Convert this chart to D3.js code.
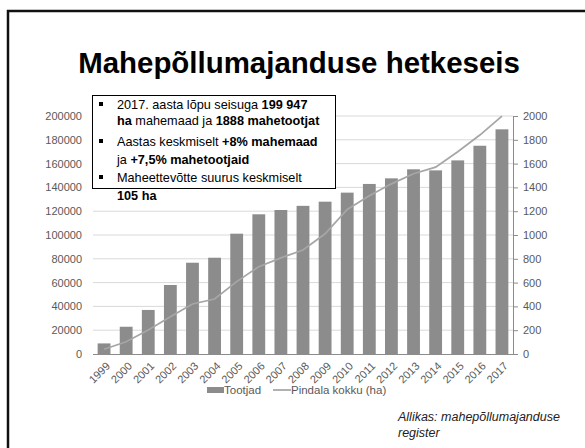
<!DOCTYPE html>
<html>
<head>
<meta charset="utf-8">
<script src="https://cdn.jsdelivr.net/npm/d3@7"></script>
<style>
  body { margin: 0; background: #fff; }
  svg { display: block; font-family: "Liberation Sans", Arial, sans-serif; }
</style>
</head>
<body>
<svg id="chart" width="585" height="448"></svg>
<script>
const years = ["1999","2000","2001","2002","2003","2004","2005","2006","2007","2008",
  "2009","2010","2011","2012","2013","2014","2015","2016","2017"]
const tootjad = [89, 229, 370, 580, 767, 809, 1011, 1174, 1210, 1245,
  1280, 1356, 1429, 1476, 1552, 1543, 1627, 1750, 1888]
const pindala = [4000, 10300, 20200, 31300, 42000, 46200, 60800, 73400, 80800, 87400,
  101000, 121500, 133000, 143000, 151500, 157000, 170000, 184000, 199947]
const leftTicks = [0, 20000, 40000, 60000, 80000, 100000, 120000, 140000, 160000, 180000, 200000]
const rightTicks = [0, 200, 400, 600, 800, 1000, 1200, 1400, 1600, 1800, 2000]
const bullets = [
  [[["2017. aasta lõpu seisuga ", false], ["199 947", true]],
   [["ha", true], [" mahemaad ja ", false], ["1888 mahetootjat", true]]],
  [[["Aastas keskmiselt ", false], ["+8% mahemaad", true]],
   [["ja ", false], ["+7,5% mahetootjaid", true]]],
  [[["Maheettevõtte suurus keskmiselt", false]],
   [["105 ha", true]]]
]

const svg = d3.select("#chart")
const barColor = "#8c8c8c"
const lineColor = "#a6a6a6"
const labelColor = "#595959"

// slide frame
svg.append("path")
  .attr("d", "M8,448 V11 H590")
  .attr("fill", "none")
  .attr("stroke", "#111")
  .attr("stroke-width", 2.5)

// title, scaled to the reference width
const title = svg.append("text")
  .attr("x", 299).attr("y", 73)
  .attr("text-anchor", "middle")
  .attr("font-weight", "bold")
  .attr("font-size", 28)
  .attr("fill", "#000")
  .text("Mahepõllumajanduse hetkeseis")
const tw = title.node().getComputedTextLength()
title.attr("font-size", 28 * 442 / tw)

const plotL = 93, plotR = 513, plotT = 116, plotB = 354

const x = d3.scaleBand().domain(years).range([plotL, plotR]).paddingInner(0.42).paddingOuter(0.21)
const yL = d3.scaleLinear().domain([0, 200000]).range([plotB, plotT])
const yR = d3.scaleLinear().domain([0, 2000]).range([plotB, plotT])

// gridlines
svg.append("g")
  .selectAll("line")
  .data(leftTicks.slice(1))
  .join("line")
    .attr("x1", plotL).attr("x2", plotR)
    .attr("y1", d => yL(d)).attr("y2", d => yL(d))
    .attr("stroke", "#d9d9d9")
    .attr("stroke-width", 1)

// bars
svg.append("g")
  .selectAll("rect")
  .data(years)
  .join("rect")
    .attr("x", d => x(d))
    .attr("width", x.bandwidth())
    .attr("y", (d, i) => yR(tootjad[i]))
    .attr("height", (d, i) => plotB - yR(tootjad[i]))
    .attr("fill", barColor)

// line
const line = d3.line()
  .x((d, i) => x(years[i]) + x.bandwidth() / 2)
  .y(d => yL(d))
svg.append("path")
  .datum(pindala)
  .attr("d", line)
  .attr("fill", "none")
  .attr("stroke", lineColor)
  .attr("stroke-width", 1.75)

// left axis
const axL = svg.append("g")
  .attr("transform", `translate(${plotL},0)`)
  .call(d3.axisLeft(yL).tickValues(leftTicks).tickSize(0).tickPadding(11).tickFormat(d3.format("d")))
axL.select(".domain").remove()
axL.selectAll("text").attr("fill", labelColor).attr("font-size", 11).attr("font-family", "Liberation Sans, Arial")

// right axis
const axR = svg.append("g")
  .attr("transform", `translate(${plotR},0)`)
  .call(d3.axisRight(yR).tickValues(rightTicks).tickSize(5).tickPadding(5).tickFormat(d3.format("d")))
axR.select(".domain").attr("stroke", "#8c8c8c")
axR.selectAll(".tick line").attr("stroke", "#8c8c8c")
axR.selectAll("text").attr("fill", labelColor).attr("font-size", 11).attr("font-family", "Liberation Sans, Arial")

// x axis
const axX = svg.append("g")
  .attr("transform", `translate(0,${plotB})`)
  .call(d3.axisBottom(x).tickSize(0).tickPadding(0))
axX.select(".domain").attr("stroke", "#8c8c8c").attr("d", `M${plotL},0.5H${plotR}`)
axX.selectAll("text")
  .attr("fill", labelColor)
  .attr("font-size", 11)
  .attr("font-family", "Liberation Sans, Arial")
  .attr("text-anchor", "end")
  .attr("dy", "0.35em")
  .attr("transform", "translate(4,10) rotate(-45)")

// text box
svg.append("rect")
  .attr("x", 92.5).attr("y", 95.5)
  .attr("width", 243).attr("height", 93)
  .attr("fill", "#fff")
  .attr("stroke", "#000")
  .attr("stroke-width", 1)

const rowY = [109, 125, 146, 164, 182, 200]
let row = 0
bullets.forEach(b => {
  svg.append("rect")
    .attr("x", 99).attr("y", rowY[row] - 7)
    .attr("width", 4).attr("height", 4)
    .attr("fill", "#000")
  b.forEach(lineParts => {
    const t = svg.append("text")
      .attr("x", 117).attr("y", rowY[row])
      .attr("font-size", 12.7)
      .attr("fill", "#000")
    lineParts.forEach(([s, bold]) => {
      t.append("tspan").attr("font-weight", bold ? "bold" : "normal").text(s)
    })
    row++
  })
})

// legend
const lg = svg.append("g")
lg.append("rect").attr("x", 207).attr("y", 387).attr("width", 17).attr("height", 6).attr("fill", barColor)
lg.append("text").attr("x", 224).attr("y", 394).attr("font-size", 11.5).attr("fill", labelColor).text("Tootjad")
lg.append("line").attr("x1", 273).attr("x2", 291).attr("y1", 390).attr("y2", 390)
  .attr("stroke", lineColor).attr("stroke-width", 1.75)
lg.append("text").attr("x", 291).attr("y", 394).attr("font-size", 11.5).attr("fill", labelColor).text("Pindala kokku (ha)")

// source
svg.append("text").attr("x", 398).attr("y", 421).attr("font-size", 12.5).attr("font-style", "italic")
  .attr("fill", "#222").text("Allikas: mahepõllumajanduse")
svg.append("text").attr("x", 398).attr("y", 437).attr("font-size", 12.5).attr("font-style", "italic")
  .attr("fill", "#222").text("register")
</script>
</body>
</html>
